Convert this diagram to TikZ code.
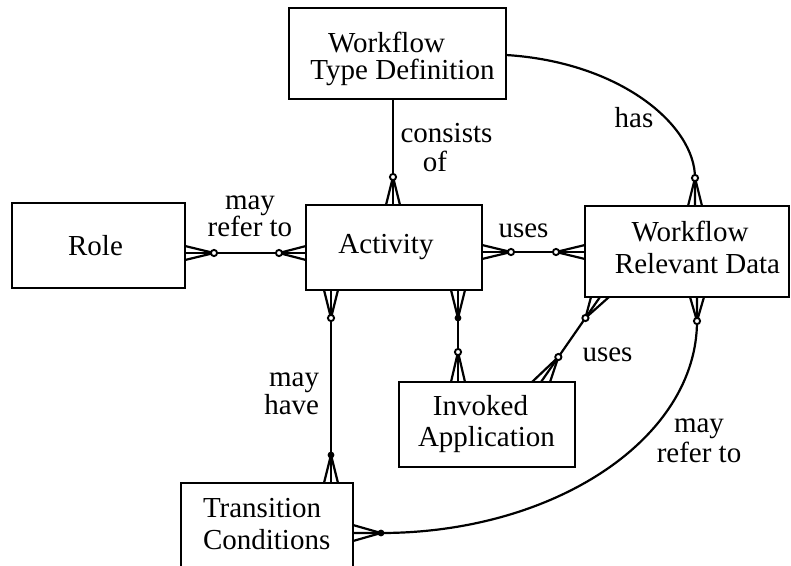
\documentclass[tikz,border=0pt]{standalone}
\usepackage{fontspec}
\setmainfont{Liberation Serif}
\usetikzlibrary{calc}
\tikzset{
  box/.style={draw, line width=2.8pt, inner sep=0pt, outer sep=0pt},
  conn/.style={line width=2.2pt},
  txt/.style={inner sep=0pt, outer sep=0pt, font=\fontsize{29}{27}\selectfont},
}
\newcommand\crowfoot[3]{\draw[conn] ($(#1)+(#3)$) -- (#2) -- ($(#1)-(#3)$);}
\newcommand\opendot[1]{\filldraw[line width=1.9pt, fill=white] (#1) circle (3.1pt);}
\newcommand\fulldot[1]{\fill (#1) circle (3.4pt);}
\begin{document}
\begin{tikzpicture}[x=1pt,y=-1pt]
\useasboundingbox (0,0) rectangle (791,565);
\clip (0,0) rectangle (791,565);
% boxes
\node[box, minimum width=217pt, minimum height=91pt] (wtd) at (397.5,53.5) {};
\node[box, minimum width=173pt, minimum height=85pt] (role) at (98.5,245.5) {};
\node[box, minimum width=176pt, minimum height=85pt] (act) at (394,247.5) {};
\node[box, minimum width=204pt, minimum height=91pt] (wrd) at (687,251.5) {};
\node[box, minimum width=176pt, minimum height=85pt] (ia) at (487,424.5) {};
\node[box, minimum width=172pt, minimum height=85pt] (tc) at (267,525.5) {};
% box texts
\node[txt, align=center] (wtdT) at (402.5,58.8) {Workflow\hspace*{32pt}\\Type Definition};
\node[txt] (roleT) at (95.5,245.2) {Role};
\node[txt] (actT) at (386,247.3) {Activity};
\node[txt, align=center, font=\fontsize{29}{31.6}\selectfont] (wrdT) at (697.5,247.7) {Workflow\hspace*{15pt}\\Relevant Data};
\node[txt, align=center, font=\fontsize{29}{31}\selectfont] (iaT) at (486.5,423.8) {Invoked\hspace*{12pt}\\Application};
\node[txt, align=left, anchor=west, font=\fontsize{29}{32}\selectfont] (tcT) at (203,524.2) {Transition\\Conditions};
% connector labels
\node[txt, align=center] (l1) at (250,216) {may\\refer to};
\node[txt] (l2) at (523.5,230.4) {uses};
\node[txt, align=center, font=\fontsize{29}{29}\selectfont] (l3) at (446.5,147.4) {consists\\of\hspace*{23pt}};
\node[txt] (l4) at (634,117.5) {has};
\node[txt, align=right, anchor=east, font=\fontsize{29}{28}\selectfont] (l5) at (319,393.4) {may\\have};
\node[txt] (l6) at (607.5,355.1) {uses};
\node[txt, align=center, font=\fontsize{29}{30}\selectfont] (l7) at (699,440.4) {may\\refer to};
% A: WTD - Activity
\coordinate (a2x) at (393,177);
\draw[conn] (wtd.south -| a2x) coordinate (a1) -- (act.north -| a2x) coordinate (a2);
\crowfoot{a2}{a2x}{7,0}
% B: Role - Activity
\coordinate (b1x) at (214,253);
\coordinate (b2x) at (279,253);
\draw[conn] (role.east |- b1x) coordinate (b1) -- (act.west |- b1x) coordinate (b2);
\crowfoot{b1}{b1x}{0,7}
\crowfoot{b2}{b2x}{0,7}
% C: Activity - WRD
\coordinate (c1x) at (511,252);
\coordinate (c2x) at (556,252);
\draw[conn] (act.east |- c1x) coordinate (c1) -- (wrd.west |- c1x) coordinate (c2);
\crowfoot{c1}{c1x}{0,7}
\crowfoot{c2}{c2x}{0,7}
% D: Activity - Invoked Application
\coordinate (d1x) at (458,318);
\coordinate (d2x) at (458,352);
\draw[conn] (act.south -| d1x) coordinate (d1) -- (ia.north -| d1x) coordinate (d2);
\crowfoot{d1}{d1x}{7,0}
\crowfoot{d2}{d2x}{7,0}
% E: Activity - Transition Conditions
\coordinate (e1x) at (331,318);
\coordinate (e2x) at (331,455);
\draw[conn] (act.south -| e1x) coordinate (e1) -- (tc.north -| e1x) coordinate (e2);
\crowfoot{e1}{e1x}{7,0}
\crowfoot{e2}{e2x}{7,0}
% F: WRD - Invoked Application
\coordinate (f1) at (wrd.south -| 600,0);
\coordinate (f2) at (ia.north -| 541,0);
\draw[conn] (f1) -- (f2);
\coordinate (f1x) at ($(f1)!0.247!(f2)$);
\coordinate (f2x) at ($(f2)!0.294!(f1)$);
\crowfoot{f1}{f1x}{9,0}
\crowfoot{f2}{f2x}{9,0}
% G: WTD - WRD (has)
\coordinate (g2x) at (695,178);
\draw[conn] (wtd.east |- 0,55) .. controls (620,62) and (695,125) .. (g2x) -- (wrd.north -| g2x) coordinate (g2);
\crowfoot{g2}{g2x}{7,0}
% H: WRD - Transition Conditions (may refer to)
\coordinate (h1x) at (697,321);
\coordinate (h2x) at (381,533);
\draw[conn] (wrd.south -| h1x) coordinate (h1) -- (h1x) .. controls (697,438) and (555,533) .. (h2x) -- (tc.east |- h2x) coordinate (h2);
\crowfoot{h1}{h1x}{7,0}
\crowfoot{h2}{h2x}{0,8}
% dots
\opendot{a2x}
\opendot{b1x}
\opendot{b2x}
\opendot{c1x}
\opendot{c2x}
\fulldot{d1x}
\opendot{d2x}
\opendot{e1x}
\fulldot{e2x}
\opendot{f1x}
\opendot{f2x}
\opendot{g2x}
\opendot{h1x}
\fulldot{h2x}
\end{tikzpicture}
\end{document}
